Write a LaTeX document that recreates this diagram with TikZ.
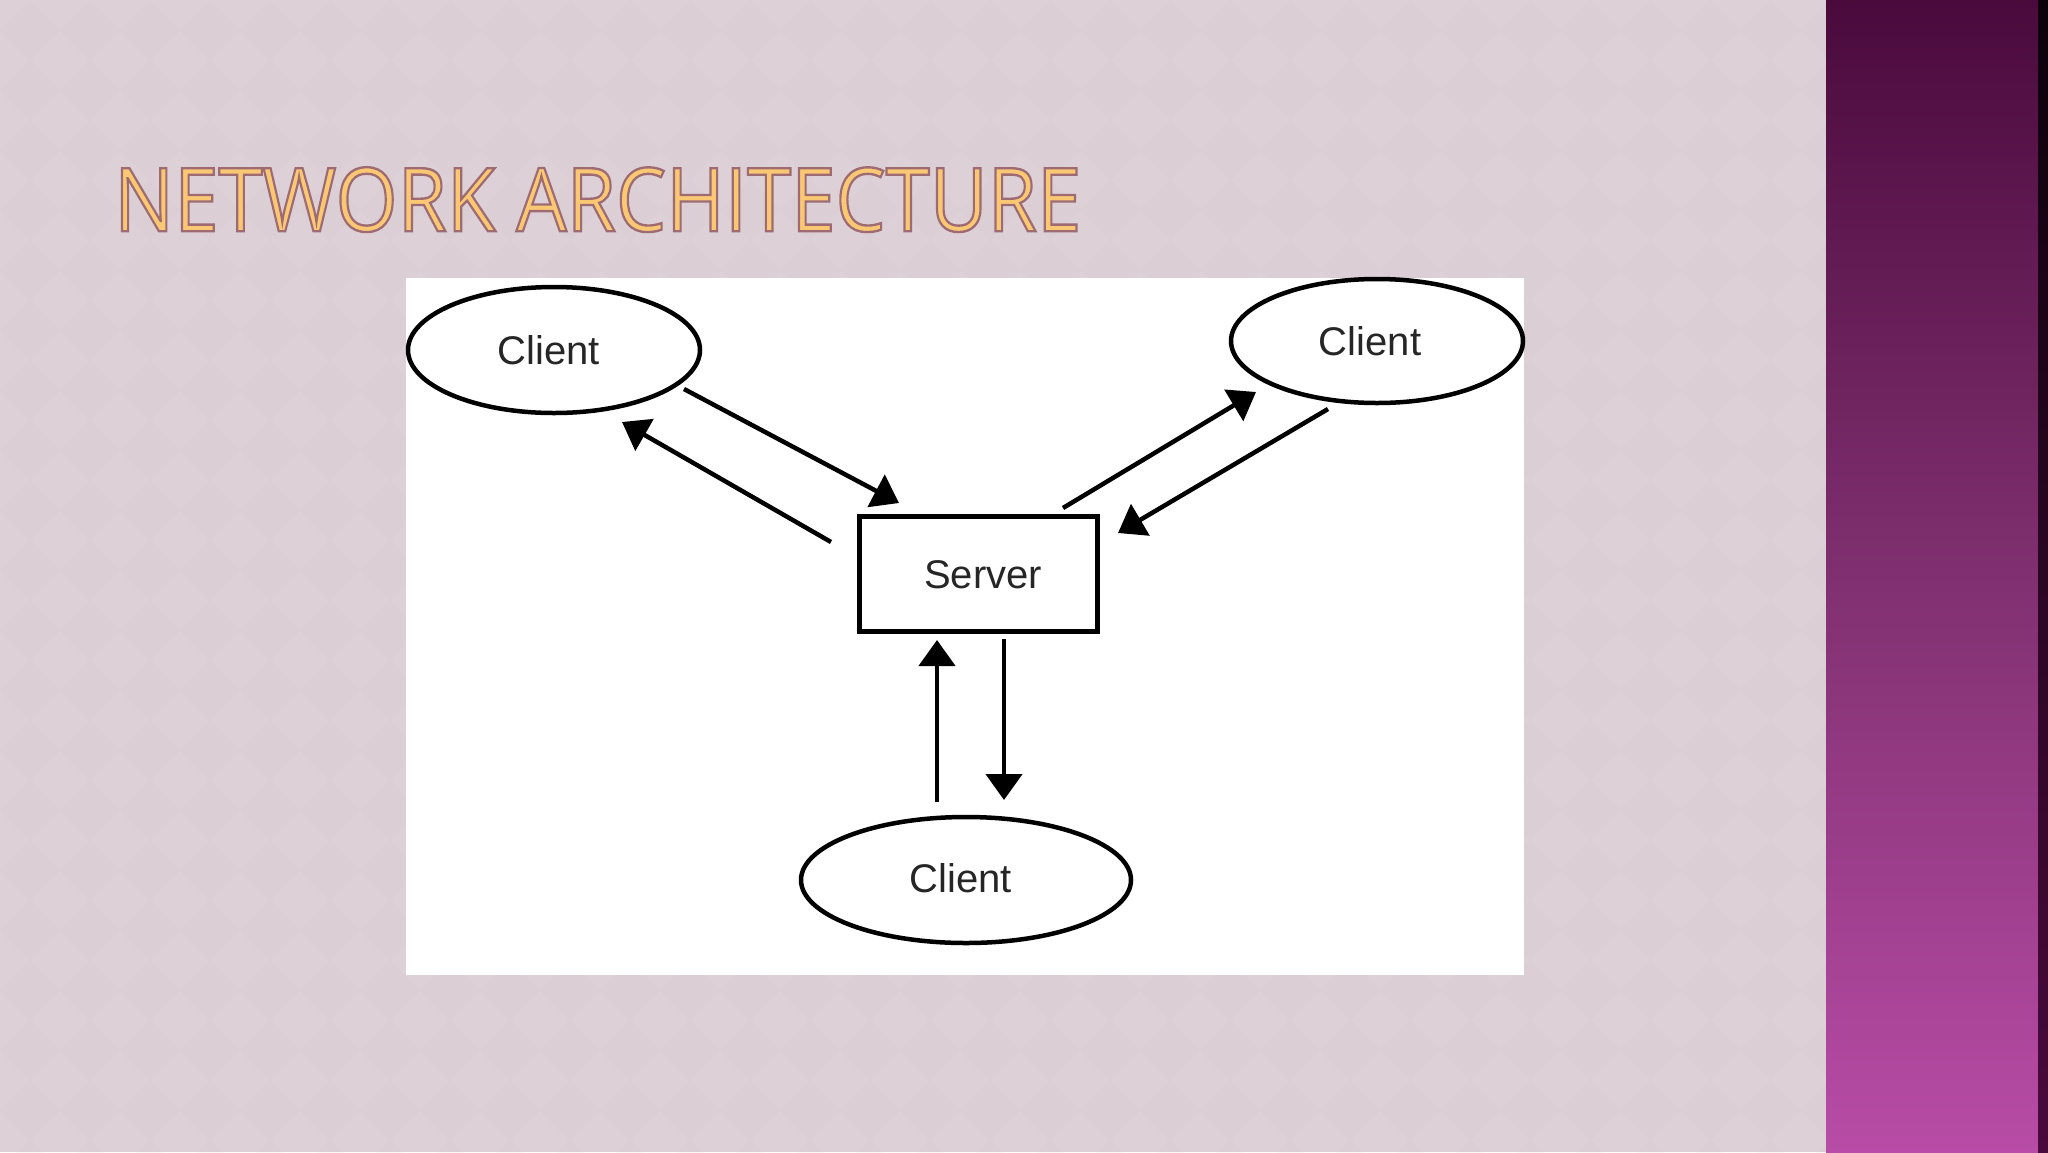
\documentclass[tikz,border=0pt]{standalone}
\usepackage{fontspec}
\setmainfont{Liberation Sans}
\newfontfamily\titlefont{Open Sans}
\usetikzlibrary{shapes.geometric,arrows.meta}
\definecolor{bgc}{RGB}{221,208,215}
\definecolor{bgd}{RGB}{212,198,206}
\definecolor{titlec}{RGB}{250,200,115}
\definecolor{ptop}{RGB}{74,10,60}
\definecolor{pmid}{RGB}{128,48,112}
\definecolor{pbot}{RGB}{184,76,166}
\tikzset{
  client/.style={ellipse,draw=black,line width=4.5pt,fill=white,inner sep=0pt},
  serverbox/.style={rectangle,draw=black,line width=5pt,fill=white,inner sep=0pt},
  label/.style={font=\fontsize{40}{40}\selectfont,text=black!85,inner sep=0pt},
  conn/.style={line width=4.5pt,-{Triangle[length=26pt,width=36pt]}}
}
\begin{document}
\begin{tikzpicture}[x=1pt,y=-1pt]
\useasboundingbox (0,0) rectangle (2048,1152);
% background
\fill[bgc] (0,0) rectangle (1826,1152);
\foreach \i in {0,...,30}{
  \foreach \j in {0,...,19}{
    \fill[bgd,opacity=0.15] (\i*60+30,\j*60) -- ++(30,30) -- ++(-30,30) -- ++(-30,-30) -- cycle;
  }
}
% purple side bar
\shade[top color=ptop,bottom color=pbot,middle color=pmid] (1826,0) rectangle (2048,1152);
\shade[top color=black!85!ptop,bottom color=ptop] (2038,0) rectangle (2048,1152);
% title
\node[anchor=north west,inner sep=0pt,text=titlec] (title) at (114,167)
  {\resizebox{967pt}{64pt}{\fontsize{90}{90}\titlefont\special{pdf:literal 2 Tr 2.4 w 0.62 0.42 0.45 RG}NETWORK ARCHITECTURE\special{pdf:literal 0 Tr}}};
% panel
\fill[white] (406,278) rectangle (1524,975);
% nodes
\node[client,minimum width=292pt,minimum height=126pt] (c1) at (554,350) {};
\node[label] (t1) at (549,350) {Client};
\node[client,minimum width=292pt,minimum height=124pt] (c2) at (1377,341) {};
\node[label] (t2) at (1370,341) {Client};
\node[client,minimum width=330pt,minimum height=126pt] (c3) at (966,880) {};
\node[label] (t3) at (961,878) {Client};
\node[serverbox,minimum width=238pt,minimum height=115pt] (srv) at (978,574) {};
\node[label] (ts) at (983,575) {Server};
% connector end points
\coordinate (a1s) at (684,389); \coordinate (a1e) at (899,503);
\coordinate (a2s) at (831,542); \coordinate (a2e) at (622,422);
\coordinate (a3s) at (1063,508); \coordinate (a3e) at (1256,392);
\coordinate (a4s) at (1328,409); \coordinate (a4e) at (1118,533);
\coordinate (a5s) at (937,802); \coordinate (a5e) at (937,640);
\coordinate (a6s) at (1004,639); \coordinate (a6e) at (1004,800);
\draw[conn] (a1s) -- (a1e);
\draw[conn] (a2s) -- (a2e);
\draw[conn] (a3s) -- (a3e);
\draw[conn] (a4s) -- (a4e);
\draw[conn] (a5s) -- (a5e);
\draw[conn] (a6s) -- (a6e);
\end{tikzpicture}
\end{document}
